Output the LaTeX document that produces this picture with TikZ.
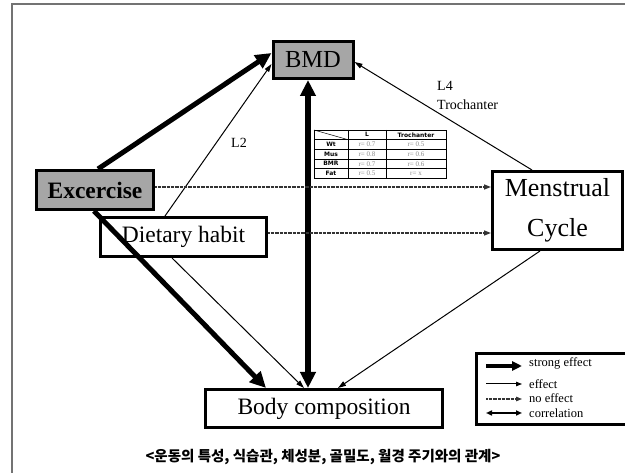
\documentclass[tikz,border=0pt]{standalone}
\usepackage{fontspec}
\setmainfont{Liberation Serif}
\newfontfamily\kofont{Noto Sans CJK KR}
\newfontfamily\tabfont{DejaVu Sans}
\usetikzlibrary{arrows.meta}

\newlength{\du}
\setlength{\du}{1pt}

\definecolor{boxgray}{rgb}{0.650000, 0.650000, 0.650000}
\definecolor{framegray}{rgb}{0.450000, 0.450000, 0.450000}
\definecolor{valgray}{rgb}{0.550000, 0.550000, 0.550000}

\tikzset{
  diabox/.style={draw=black, line width=3\du, inner sep=0pt, fill=white,
    font=\fontsize{23.5}{23.5}\selectfont},
  grayfill/.style={fill=boxgray},
  strongarrow/.style={line width=5\du, -{Triangle[length=16pt,width=15pt]}},
  corrarrow/.style={line width=6\du, {Triangle[length=16pt,width=15pt]}-{Triangle[length=16pt,width=15pt]}},
  effectarrow/.style={line width=1\du, -{Triangle[length=8pt,width=5pt]}},
  noeffectarrow/.style={line width=1.5\du, black!80, dash pattern=on 0.8pt off 0.5pt,
    -{Triangle[length=7pt,width=5pt]}},
  labeltext/.style={inner sep=0pt, font=\fontsize{14}{16}\selectfont},
  legtext/.style={inner sep=0pt, anchor=west, font=\fontsize{12.5}{12.5}\selectfont},
  tabhead/.style={inner sep=0pt, font=\tabfont\bfseries\fontsize{6}{6}\selectfont},
  tabval/.style={inner sep=0pt, text=valgray, font=\fontsize{7}{7}\selectfont},
}

\begin{document}
\begin{tikzpicture}
\useasboundingbox (0\du,0\du) rectangle (625\du,-473\du);
% frame
\draw[framegray, line width=1.5\du] (12\du,-480\du)--(12\du,-4\du)--(630\du,-4\du);

% boxes
\node[diabox, grayfill, minimum width=80\du, minimum height=37\du,
  font=\fontsize{24.5}{24.5}\selectfont] (bmd) at (313\du,-60\du){BMD};
\node[diabox, grayfill, minimum width=117\du, minimum height=39\du,
  font=\bfseries\fontsize{23.5}{23.5}\selectfont] (exc) at (95\du,-190\du){Excercise};
\node[diabox, minimum width=166\du, minimum height=39\du] (diet) at (183.5\du,-237\du){Dietary habit};
\node[diabox, minimum width=130\du, minimum height=78\du, align=center,
  font=\fontsize{26}{40}\selectfont] (mens) at (557.5\du,-210.5\du){Menstrual\\Cycle};
\node[diabox, minimum width=237\du, minimum height=38\du] (body) at (324\du,-408.5\du){Body composition};

% table
\draw[line width=0.8\du] (314\du,-130\du) rectangle (446\du,-178.3\du);
\foreach \k in {1,...,4}{
  \pgfmathsetmacro{\ty}{-(130+9.66*\k)}
  \draw[line width=0.6\du] (314\du,\ty\du)--(446\du,\ty\du);
}
\foreach \cx in {348,386}{
  \draw[line width=0.6\du] (\cx\du,-130\du)--(\cx\du,-178.3\du);
}
\draw[line width=0.5\du] (314\du,-130\du)--(348\du,-139.66\du);
\node[tabhead] (tab-l) at (367\du,-134.8\du){L};
\node[tabhead] (tab-troch) at (416\du,-134.8\du){Trochanter};
\foreach \i/\lab/\lval/\tval in {1/Wt/0.7/0.5, 2/Mus/0.8/0.6, 3/BMR/0.7/0.6, 4/Fat/0.5/x}{
  \pgfmathsetmacro{\ty}{-(130+9.66*(\i+0.5))}
  \node[tabhead] (tab-\lab) at (331\du,\ty\du){\lab};
  \node[tabval] (tab-\lab-l) at (367\du,\ty\du){r= \lval};
  \node[tabval] (tab-\lab-t) at (416\du,\ty\du){r= \tval};
}

% labels
\node[labeltext] (l2) at (239\du,-143\du){L2};
\node[labeltext, anchor=west] (l4) at (437\du,-86\du){L4};
\node[labeltext, anchor=west] (troch) at (437\du,-105\du){Trochanter};

% connectors
\draw[strongarrow] ([xshift=3pt]exc.north)--([yshift=7pt]bmd.west);
\draw[effectarrow] ([xshift=-18.5pt]diet.north)--([yshift=-4pt]bmd.west);
\draw[corrarrow] ([xshift=-5pt]bmd.south)--([xshift=-16pt]body.north);
\draw[effectarrow] ([xshift=-25.5pt]mens.north)--([yshift=-2pt]bmd.east);
\draw[noeffectarrow] ([yshift=3pt]exc.east)--([yshift=23.5pt]mens.west);
\draw[noeffectarrow] ([yshift=4pt]diet.east)--([yshift=-22.5pt]mens.west);
\draw[strongarrow] ([xshift=-1pt]exc.south)--([xshift=-58pt]body.north);
\draw[effectarrow] ([xshift=-11.5pt]diet.south)--([xshift=-20pt]body.north);
\draw[effectarrow] ([xshift=-17.5pt]mens.south)--([xshift=14pt]body.north);

% legend
\node[draw=black, line width=3\du, minimum width=152\du, minimum height=71\du] (legend) at (552\du,-389\du){};
\coordinate (leg1a) at (486\du,-366\du);
\coordinate (leg1b) at (522\du,-366\du);
\coordinate (leg2a) at (486\du,-384\du);
\coordinate (leg2b) at (522\du,-384\du);
\coordinate (leg3a) at (486\du,-399\du);
\coordinate (leg3b) at (522\du,-399\du);
\coordinate (leg4a) at (486\du,-413\du);
\coordinate (leg4b) at (522\du,-413\du);
\draw[line width=4\du, -{Triangle[length=10pt,width=9pt]}] (leg1a)--(leg1b);
\draw[line width=1\du, -{Triangle[length=6pt,width=4.5pt]}] (leg2a)--(leg2b);
\draw[noeffectarrow, line width=1.2\du, -{Triangle[length=6pt,width=4.5pt]}] (leg3a)--(leg3b);
\draw[line width=1.6\du, {Triangle[length=6pt,width=5pt]}-{Triangle[length=6pt,width=5pt]}] (leg4a)--(leg4b);
\node[legtext] (leg1) at (529\du,-363\du){strong effect};
\node[legtext] (leg2) at (529\du,-384\du){effect};
\node[legtext] (leg3) at (529\du,-398.5\du){no effect};
\node[legtext] (leg4) at (529\du,-413\du){correlation};

% caption
\node[inner sep=0pt, font=\kofont\bfseries\fontsize{14.5}{14.5}\selectfont] (caption) at (323\du,-457\du)
  {<운동의 특성, 식습관, 체성분, 골밀도, 월경 주기와의 관계>};
\end{tikzpicture}
\end{document}
